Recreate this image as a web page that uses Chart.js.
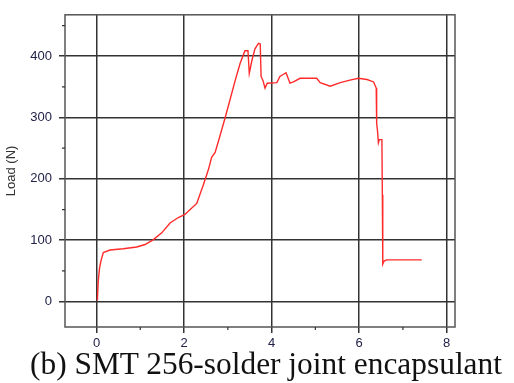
<!DOCTYPE html>
<html>
<head>
<meta charset="utf-8">
<script src="https://cdn.jsdelivr.net/npm/chart.js@4/dist/chart.umd.min.js"></script>
<style>
  html, body { margin: 0; padding: 0; background: #fff; }
  #wrap { position: relative; width: 514px; height: 383px; overflow: hidden; }
  #chart { position: absolute; left: 0; top: 0; }
  #caption {
    position: absolute; left: 30px; top: 348px;
    font-family: 'Liberation Serif', 'Times New Roman', serif;
    font-size: 31.4px; line-height: 31px; color: #111; white-space: nowrap;
  }
</style>
</head>
<body>
<div id="wrap">
  <canvas id="chart" width="514" height="353"></canvas>
  <div id="caption">(b) SMT 256-solder joint encapsulant</div>
</div>
<script>
// displacement (mm) and load (N)
const displacement = [
  0.02, 0.04, 0.07, 0.10, 0.155, 0.31, 0.61, 0.92, 1.11, 1.30,
  1.49, 1.68, 1.87, 2.02, 2.14, 2.29, 2.44, 2.56, 2.63, 2.71,
  2.82, 2.94, 3.05, 3.17, 3.28, 3.39, 3.46, 3.49, 3.55, 3.62,
  3.70, 3.74, 3.76, 3.80, 3.85, 3.90, 4.12, 4.19, 4.33, 4.42,
  4.50, 4.65, 5.03, 5.11, 5.34, 5.57, 5.79, 5.98, 6.18, 6.33,
  6.39, 6.40, 6.42, 6.44, 6.46, 6.52, 6.53, 6.54, 6.57, 6.63,
  7.43
];
const load = [
  2, 34, 55, 66, 80, 84, 86, 89, 93, 101,
  112, 128, 137, 142, 150, 160, 190, 216, 235, 243,
  270, 300, 329, 361, 388, 409, 409, 372, 393, 412,
  421, 420, 367, 361, 348, 356, 357, 367, 373, 356,
  358, 364, 364, 357, 351, 357, 361, 364, 362, 358,
  348, 291, 278, 259, 264, 264, 174, 61, 66, 68,
  68
];

const xTicks = [0, 2, 4, 6, 8];
const yTicks = [0, 100, 200, 300, 400];
const xMinorTicks = [1, 3, 5, 7];
const yMinorTicks = [50, 150, 250, 350, 450];

const tickFont = { family: "'Liberation Sans', Arial, sans-serif", size: 13 };

// box around the plot + short minor tick marks
const frameAndMinor = {
  id: 'frameAndMinor',
  afterDraw(chart) {
    const { ctx, chartArea: a, scales } = chart;
    ctx.save();
    ctx.strokeStyle = '#555';
    ctx.lineWidth = 1.5;
    ctx.strokeRect(a.left, a.top, a.right - a.left, a.bottom - a.top);
    ctx.strokeStyle = '#333';
    ctx.lineWidth = 1.2;
    ctx.beginPath();
    for (const v of xMinorTicks) {
      const px = scales.x.getPixelForValue(v);
      ctx.moveTo(px, a.bottom);
      ctx.lineTo(px, a.bottom + 3);
    }
    for (const v of yMinorTicks) {
      const py = scales.y.getPixelForValue(v);
      ctx.moveTo(a.left - 3, py);
      ctx.lineTo(a.left, py);
    }
    ctx.stroke();
    ctx.restore();
  }
};

new Chart(document.getElementById('chart').getContext('2d'), {
  type: 'line',
  data: {
    datasets: [{
      data: displacement.map((x, i) => ({ x, y: load[i] })),
      borderColor: '#ff2a2a',
      borderWidth: 1.4,
      pointRadius: 0,
      tension: 0,
      fill: false
    }]
  },
  options: {
    responsive: false,
    animation: false,
    layout: { padding: { top: 11, right: 59, left: 0, bottom: 0 } },
    plugins: { legend: { display: false }, tooltip: { enabled: false } },
    scales: {
      x: {
        type: 'linear',
        min: -0.72,
        max: 8.19,
        afterBuildTicks: s => { s.ticks = xTicks.map(v => ({ value: v })); },
        afterFit: s => { s.height = 26; },
        border: { display: false },
        grid: { color: '#333', lineWidth: 1.5, tickLength: 6, tickColor: '#333' },
        ticks: { padding: 3, color: '#22224a', font: tickFont, maxRotation: 0 }
      },
      y: {
        min: -41.5,
        max: 467.5,
        afterBuildTicks: s => { s.ticks = yTicks.map(v => ({ value: v })); },
        afterFit: s => { s.width = 65; },
        border: { display: false },
        grid: { color: '#333', lineWidth: 1.5, tickLength: 6, tickColor: '#333' },
        ticks: { padding: 7, color: '#22224a', font: tickFont },
        title: {
          display: true,
          text: 'Load (N)',
          color: '#333',
          font: { family: "'Liberation Sans', Arial, sans-serif", size: 13 },
          padding: { top: 4, bottom: 0 }
        }
      }
    }
  },
  plugins: [frameAndMinor]
});
</script>
</body>
</html>
